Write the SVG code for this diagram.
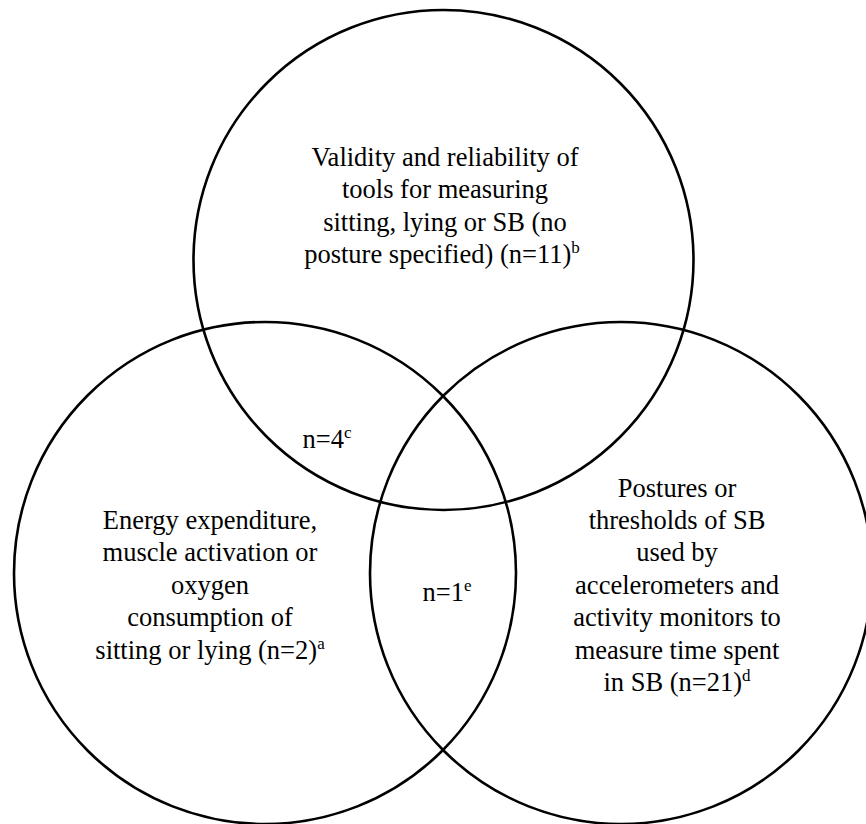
<svg xmlns="http://www.w3.org/2000/svg" width="866" height="824" viewBox="0 0 866 824">
<style>
.c{fill:none;stroke:#000;stroke-width:2.6}
text{font-family:'Liberation Serif','Times New Roman',Times,serif;font-size:26.5px;fill:#000;text-anchor:middle}
.s{font-size:17px}
</style>
<rect width="866" height="824" fill="#fff"/>
<g id="sets">
<g id="circle-top"><circle class="c" cx="443.5" cy="260" r="250"/></g>
<g id="circle-left"><circle class="c" cx="265" cy="573" r="251"/></g>
<g id="circle-right"><circle class="c" cx="621" cy="573" r="251"/></g>
</g>
<g id="label-top">
<text x="445" y="166">Validity and reliability of</text>
<text x="445" y="198">tools for measuring</text>
<text x="445" y="231">sitting, lying or SB (no</text>
<text x="442" y="263">posture specified) (n=11)<tspan class="s" dy="-10">b</tspan></text>
</g>
<g id="label-left">
<text x="210" y="529">Energy expenditure,</text>
<text x="210" y="561">muscle activation or</text>
<text x="210" y="594">oxygen</text>
<text x="210" y="626">consumption of</text>
<text x="210" y="659">sitting or lying (n=2)<tspan class="s" dy="-10">a</tspan></text>
</g>
<g id="label-right">
<text x="677" y="497">Postures or</text>
<text x="677" y="529">thresholds of SB</text>
<text x="677" y="561">used by</text>
<text x="677" y="594">accelerometers and</text>
<text x="677" y="626">activity monitors to</text>
<text x="677" y="659">measure time spent</text>
<text x="677" y="691">in SB (n=21)<tspan class="s" dy="-10">d</tspan></text>
</g>
<g id="label-top-left"><text x="327" y="448">n=4<tspan class="s" dy="-10">c</tspan></text></g>
<g id="label-left-right"><text x="447" y="601">n=1<tspan class="s" dy="-10">e</tspan></text></g>
</svg>
